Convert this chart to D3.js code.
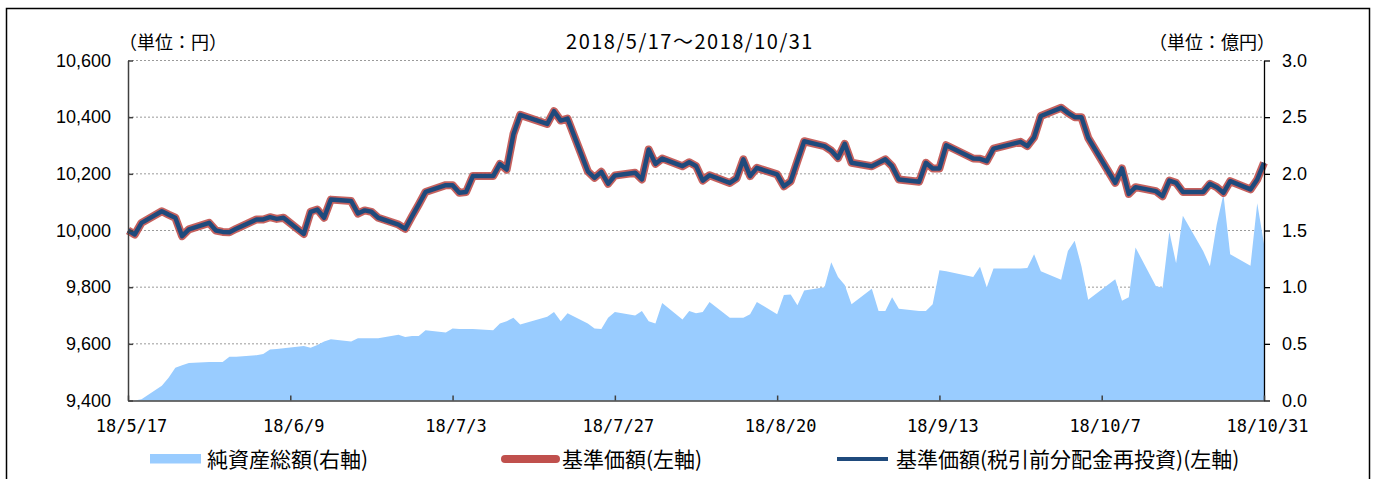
<!DOCTYPE html>
<html>
<head>
<meta charset="utf-8">
<script src="https://cdn.jsdelivr.net/npm/d3@7"></script>
<style>
  body { margin: 0; background: #fff; }
  svg text { fill: #000; }
</style>
</head>
<body>
<svg id="chart" width="1375" height="479"></svg>
<script>
// business days (first point is the 5/16 start value)
const dates = [
  "2018-05-16","2018-05-17","2018-05-18","2018-05-21","2018-05-22","2018-05-23","2018-05-24","2018-05-25",
  "2018-05-28","2018-05-29","2018-05-30","2018-05-31","2018-06-01","2018-06-04","2018-06-05","2018-06-06",
  "2018-06-07","2018-06-08","2018-06-11","2018-06-12","2018-06-13","2018-06-14","2018-06-15","2018-06-18",
  "2018-06-19","2018-06-20","2018-06-21","2018-06-22","2018-06-25","2018-06-26","2018-06-27","2018-06-28",
  "2018-06-29","2018-07-02","2018-07-03","2018-07-04","2018-07-05","2018-07-06","2018-07-09","2018-07-10",
  "2018-07-11","2018-07-12","2018-07-13","2018-07-17","2018-07-18","2018-07-19","2018-07-20","2018-07-23",
  "2018-07-24","2018-07-25","2018-07-26","2018-07-27","2018-07-30","2018-07-31","2018-08-01","2018-08-02",
  "2018-08-03","2018-08-06","2018-08-07","2018-08-08","2018-08-09","2018-08-10","2018-08-13","2018-08-14",
  "2018-08-15","2018-08-16","2018-08-17","2018-08-20","2018-08-21","2018-08-22","2018-08-23","2018-08-24",
  "2018-08-27","2018-08-28","2018-08-29","2018-08-30","2018-08-31","2018-09-03","2018-09-04","2018-09-05",
  "2018-09-06","2018-09-07","2018-09-10","2018-09-11","2018-09-12","2018-09-13","2018-09-14","2018-09-18",
  "2018-09-19","2018-09-20","2018-09-21","2018-09-25","2018-09-26","2018-09-27","2018-09-28","2018-10-01",
  "2018-10-02","2018-10-03","2018-10-04","2018-10-05","2018-10-09","2018-10-10","2018-10-11","2018-10-12",
  "2018-10-15","2018-10-16","2018-10-17","2018-10-18","2018-10-19","2018-10-22","2018-10-23","2018-10-24",
  "2018-10-25","2018-10-26","2018-10-29","2018-10-30","2018-10-31"
];

// 基準価額 (円)
const navValues = [
  10000, 9986,10027,10068,10056,10045, 9980,10004,
  10027,10000, 9995, 9994,10006,10039,10039,10047,
  10041,10045, 9988,10066,10074,10045,10109,10104,
  10060,10071,10066,10045,10021,10006,10050,10092,
  10136,10160,10160,10133,10136,10192,10192,10235,
  10215,10340,10408,10376,10421,10388,10395,10209,
  10186,10207,10165,10194,10204,10180,10286,10235,
  10254,10227,10241,10228,10176,10195,10168,10184,
  10251,10192,10221,10198,10156,10174,10245,10315,
  10298,10282,10256,10306,10239,10227,10239,10251,
  10227,10180,10172,10239,10219,10219,10301,10254,
  10253,10245,10289,10313,10298,10329,10404,10433,
  10415,10400,10400,10327,10168,10219,10129,10153,
  10139,10121,10176,10168,10136,10136,10165,10153,
  10133,10174,10145,10180,10239
];

// 基準価額(税引前分配金再投資): no distribution paid yet, so same as NAV
const reinvestedNav = navValues.slice();

// 純資産総額 (億円)
const netAssets = [
  0.00, 0.00, 0.01, 0.13, 0.20, 0.29, 0.31, 0.33,
  0.34, 0.34, 0.34, 0.385,0.385,0.40, 0.41, 0.45,
  0.455,0.46, 0.48, 0.465,0.49, 0.52, 0.54, 0.52,
  0.55, 0.55, 0.55, 0.55, 0.58, 0.56, 0.57, 0.57,
  0.62, 0.60, 0.635,0.63, 0.63, 0.63, 0.62, 0.68,
  0.70, 0.73, 0.67, 0.74, 0.78, 0.70, 0.77, 0.68,
  0.635,0.63, 0.73, 0.78, 0.75, 0.79, 0.70, 0.68,
  0.86, 0.715,0.79, 0.77, 0.78, 0.87, 0.73, 0.73,
  0.73, 0.76, 0.87, 0.76, 0.93, 0.935,0.84, 0.97,
  1.00, 1.22, 1.09, 1.02, 0.85, 0.985,0.79, 0.79,
  0.91, 0.81, 0.79, 0.79, 0.85, 1.15, 1.14, 1.09,
  1.18, 1.00, 1.165,1.165,1.17, 1.29, 1.14, 1.065,
  1.32, 1.41, 1.185,0.89, 1.07, 0.88, 0.91, 1.35,
  1.01, 0.995,1.49, 1.21, 1.63, 1.32, 1.185,1.55,
  1.82, 1.29, 1.19, 1.74, 1.38
];

const leftTicks = [9400, 9600, 9800, 10000, 10200, 10400, 10600];
const rightTicks = [0, 0.5, 1.0, 1.5, 2.0, 2.5, 3.0];
const xTickDates = ["2018-05-16","2018-06-09","2018-07-03","2018-07-27","2018-08-20","2018-09-13","2018-10-07","2018-10-31"];
const xTickLabels = ["18/5/17","18/6/9","18/7/3","18/7/27","18/8/20","18/9/13","18/10/7","18/10/31"];

const parse = d3.timeParse("%Y-%m-%d");
const rows = dates.map((d, i) => ({
  date: parse(d), nav: navValues[i], reinv: reinvestedNav[i], assets: netAssets[i]
}));

const plotL = 128, plotR = 1264, plotT = 60.5, plotB = 400.5;
const jp = "'Noto Sans CJK JP', sans-serif";
const num = "'Liberation Sans', Arial, sans-serif";

const svg = d3.select("#chart");

// outer frame
svg.append("rect")
  .attr("x", 6.5).attr("y", 8.5)
  .attr("width", 1363).attr("height", 490)
  .attr("fill", "none").attr("stroke", "#000").attr("stroke-width", 1.5);

const x = d3.scaleTime()
  .domain([parse("2018-05-16"), parse("2018-10-31")])
  .range([plotL, plotR]);
const yL = d3.scaleLinear().domain([9400, 10600]).range([plotB, plotT]);
const yR = d3.scaleLinear().domain([0, 3]).range([plotB, plotT]);

// grid
svg.append("g")
  .selectAll("line")
  .data(leftTicks.slice(1))
  .enter().append("line")
  .attr("x1", plotL).attr("x2", plotR)
  .attr("y1", d => yL(d)).attr("y2", d => yL(d))
  .attr("stroke", "#9a9a9a")
  .attr("stroke-dasharray", "2,2");

// net assets area (right axis)
const area = d3.area()
  .x(d => x(d.date))
  .y0(yR(0))
  .y1(d => yR(d.assets));

svg.append("path")
  .datum(rows)
  .attr("d", area)
  .attr("fill", "#99ccff");

// NAV lines (left axis)
svg.append("path")
  .datum(rows)
  .attr("d", d3.line().x(d => x(d.date)).y(d => yL(d.nav)))
  .attr("fill", "none")
  .attr("stroke", "#c0504d")
  .attr("stroke-width", 8)
  .attr("stroke-linejoin", "round")
  .attr("stroke-opacity", 0.9);

svg.append("path")
  .datum(rows)
  .attr("d", d3.line().x(d => x(d.date)).y(d => yL(d.reinv)))
  .attr("fill", "none")
  .attr("stroke", "#1f4a7c")
  .attr("stroke-width", 4.5)
  .attr("stroke-linejoin", "round");

// axes
const yAxisL = svg.append("g")
  .attr("transform", `translate(${plotL},0)`)
  .call(d3.axisLeft(yL).tickValues(leftTicks).tickFormat(d3.format(","))
    .tickSize(-5).tickSizeOuter(0).tickPadding(17));

const yAxisR = svg.append("g")
  .attr("transform", `translate(${plotR},0)`)
  .call(d3.axisRight(yR).tickValues(rightTicks).tickFormat(d3.format(".1f"))
    .tickSize(6).tickSizeOuter(0).tickPadding(12));

const xAxis = svg.append("g")
  .attr("transform", `translate(0,${plotB})`)
  .call(d3.axisBottom(x).tickValues(xTickDates.map(parse))
    .tickFormat((d, i) => xTickLabels[i])
    .tickSize(-5).tickSizeOuter(0).tickPadding(19));

[yAxisL, yAxisR].forEach(g => {
  g.attr("font-family", num).attr("font-size", 18);
  g.selectAll(".tick text").attr("fill", "#000");
});
yAxisL.selectAll(".domain, .tick line").attr("stroke", "#404040").attr("stroke-width", 1.5);
yAxisR.selectAll(".domain, .tick line").attr("stroke", "#000").attr("stroke-width", 1.3);
xAxis.attr("font-family", "'DejaVu Sans Mono', monospace").attr("font-size", 17);
xAxis.selectAll(".domain, .tick line").attr("stroke", "#404040").attr("stroke-width", 1.5);
xAxis.selectAll(".tick text").attr("fill", "#000").attr("dx", 3);

// header texts
svg.append("text")
  .attr("x", 119).attr("y", 49)
  .attr("font-family", jp).attr("font-size", 18)
  .text("（単位：円）");

svg.append("text")
  .attr("x", 1275).attr("y", 49)
  .attr("text-anchor", "end")
  .attr("font-family", jp).attr("font-size", 18)
  .text("（単位：億円）");

svg.append("text")
  .attr("x", 690).attr("y", 49)
  .attr("text-anchor", "middle")
  .attr("font-family", jp).attr("font-size", 20)
  .attr("letter-spacing", 1.5)
  .text("2018/5/17～2018/10/31");

// legend
const legend = svg.append("g").attr("font-family", jp).attr("font-size", 21);

legend.append("rect")
  .attr("x", 150).attr("y", 454).attr("width", 51).attr("height", 9.5)
  .attr("fill", "#99ccff");
legend.append("text").attr("x", 207).attr("y", 466.5).text("純資産総額(右軸)");

legend.append("line")
  .attr("x1", 505).attr("x2", 556).attr("y1", 459).attr("y2", 459)
  .attr("stroke", "#c0504d").attr("stroke-width", 8).attr("stroke-linecap", "round");
legend.append("text").attr("x", 562).attr("y", 466.5).text("基準価額(左軸)");

legend.append("line")
  .attr("x1", 837).attr("x2", 888).attr("y1", 459).attr("y2", 459)
  .attr("stroke", "#1f4a7c").attr("stroke-width", 4);
legend.append("text").attr("x", 896).attr("y", 466.5).text("基準価額(税引前分配金再投資)(左軸)");
</script>
</body>
</html>
